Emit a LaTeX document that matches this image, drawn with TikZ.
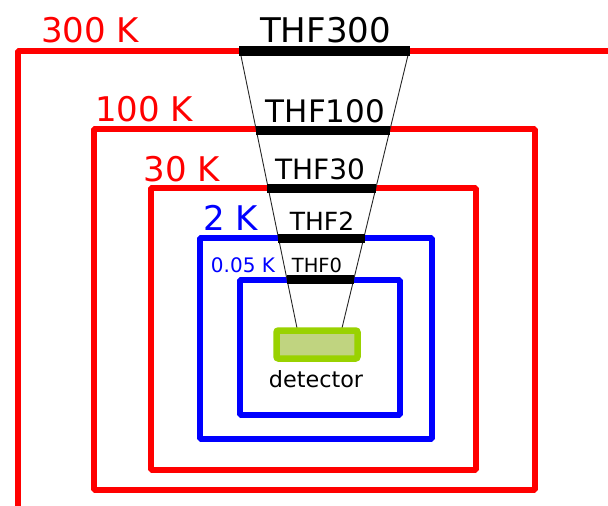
\documentclass[tikz,border=0pt]{standalone}
\usepackage{fontspec}
\setmainfont{DejaVu Sans}
\definecolor{detborder}{RGB}{153,210,0}
\definecolor{detfill}{RGB}{192,212,128}
\begin{document}
\begin{tikzpicture}[x=1pt,y=-1pt,
  redbox/.style={draw=red,line width=6pt,line join=bevel},
  bluebox/.style={draw=blue,line width=6pt,line join=bevel},
  barline/.style={draw=black,line width=9pt},
  funnel/.style={draw=black!85,line width=0.9pt},
  lbl/.style={inner sep=0pt,anchor=base},
  fs/.style={font=\fontsize{#1}{#1}\selectfont}]
\useasboundingbox (0,0) rectangle (608,506);
\clip (0,0) rectangle (608,506);
\fill[white] (0,0) rectangle (608,506);
% temperature stages
\draw[redbox] (17.5,51) rectangle (640,508.5);
\draw[redbox] (93.5,129) rectangle (535,490);
\draw[redbox] (150.5,188) rectangle (476,470);
\draw[bluebox] (200,237.5) rectangle (432,438.5);
\draw[bluebox] (239.5,280) rectangle (399.5,415);
% funnel
\coordinate (fl0) at (240,51);
\coordinate (fl1) at (297,328);
\coordinate (fr0) at (409,51);
\coordinate (fr1) at (342,328);
\draw[funnel] (fl0) -- (fl1);
\draw[funnel] (fr0) -- (fr1);
% bars
\coordinate (b300l) at (239,51);   \coordinate (b300r) at (410,51);
\coordinate (b100l) at (256,130);  \coordinate (b100r) at (390,130);
\coordinate (b30l) at (267,188.5); \coordinate (b30r) at (376,188.5);
\coordinate (b2l) at (277.5,238);  \coordinate (b2r) at (364.5,238);
\coordinate (b0l) at (286.5,279.5);\coordinate (b0r) at (354,279.5);
\draw[barline,line width=10pt] (b300l) -- (b300r);
\draw[barline] (b100l) -- (b100r);
\draw[barline] (b30l) -- (b30r);
\draw[barline] (b2l) -- (b2r);
\draw[barline] (b0l) -- (b0r);
% detector
\node[draw=detborder,fill=detfill,line width=6.5pt,rounded corners=2pt,
  minimum width=81pt,minimum height=28pt,inner sep=0pt] (det) at (317,344.5) {};
\node[lbl,fs=22.3] (detlbl) at (316,387) {detector};
% labels
\node[lbl,fs=34,text=red] (t300) at (90,42) {300 K};
\node[lbl,fs=34] (h300) at (325.5,42) {THF300};
\node[lbl,fs=34,text=red] (t100) at (144,121) {100 K};
\node[lbl,fs=31] (h100) at (325.5,122.5) {THF100};
\node[lbl,fs=34,text=red] (t30) at (182,181) {30 K};
\node[lbl,fs=28] (h30) at (320,179) {THF30};
\node[lbl,fs=34,text=blue] (t2) at (230.5,230) {2 K};
\node[lbl,fs=25] (h2) at (322,230) {THF2};
\node[lbl,fs=20,text=blue] (t0) at (243,272) {0.05 K};
\node[lbl,fs=19.5] (h0) at (317,272) {THF0};
\end{tikzpicture}
\end{document}
